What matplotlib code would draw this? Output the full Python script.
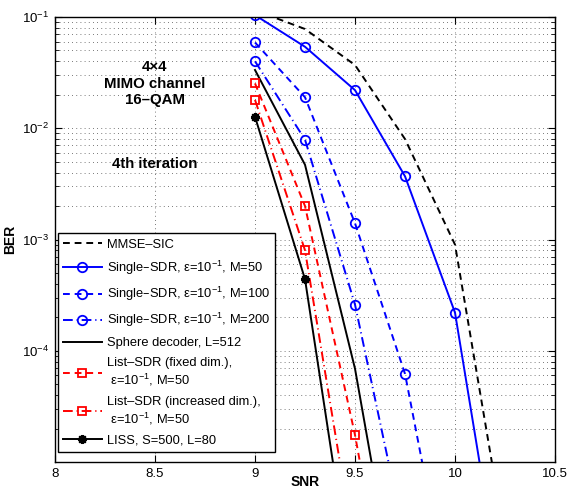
import matplotlib
matplotlib.use("Agg")
import matplotlib.pyplot as plt
from matplotlib.ticker import LogLocator, NullFormatter, FixedLocator

plt.rcParams['font.family'] = ['Liberation Sans', 'DejaVu Sans']
plt.rcParams['mathtext.default'] = 'regular'

# ---- data ----
snr = [9.0, 9.25, 9.5, 9.75, 10.0, 10.25]
ber_mmse_sic = [0.115, 0.078, 0.037, 8.0e-3, 9.0e-4, 2.0e-6]
ber_sdr_m50 = [0.104, 0.054, 0.022, 3.7e-3, 2.2e-4, 4.0e-7]
ber_sdr_m100 = [0.059, 0.019, 1.4e-3, 6.2e-5, 3.0e-7]
ber_sdr_m200 = [0.040, 7.9e-3, 2.6e-4, 2.0e-6]
ber_sphere = [0.0334, 4.7e-3, 6.9e-5, 2.0e-7]
ber_list_fixed = [0.0253, 2.0e-3, 1.75e-5, 6.0e-8]
ber_list_incr = [0.018, 8.0e-4, 1.5e-6]
ber_liss = [0.0127, 4.4e-4, 5.0e-7]

labels = [
    'MMSE–SIC',
    'Single–SDR, ε=10$^{-1}$, M=50',
    'Single–SDR, ε=10$^{-1}$, M=100',
    'Single–SDR, ε=10$^{-1}$, M=200',
    'Sphere decoder, L=512',
    'List–SDR (fixed dim.),\n ε=10$^{-1}$, M=50',
    'List–SDR (increased dim.),\n ε=10$^{-1}$, M=50',
    'LISS, S=500, L=80',
]
xticks = [8, 8.5, 9, 9.5, 10, 10.5]
xticklabels = ['8', '8.5', '9', '9.5', '10', '10.5']

fig = plt.figure(figsize=(5.67, 4.91), dpi=100)
ax = fig.add_axes([55/567, 29/491, 500/567, 445/491])

lw = 1.4
ms_c = 6.8
ms_s = 5.5
dash = (0, (3.5, 2.5))
dashdot = (0, (5, 2, 0.6, 2))
ax.plot(snr[:len(ber_mmse_sic)], ber_mmse_sic, color='black', ls=dash, lw=lw, label=labels[0])
ax.plot(snr[:len(ber_sdr_m50)], ber_sdr_m50, color='#0000ff', ls='-', lw=lw, marker='o',
        ms=ms_c, mfc='none', mew=1.3, label=labels[1])
ax.plot(snr[:len(ber_sdr_m100)], ber_sdr_m100, color='#0000ff', ls=dash, lw=lw, marker='o',
        ms=ms_c, mfc='none', mew=1.3, label=labels[2])
ax.plot(snr[:len(ber_sdr_m200)], ber_sdr_m200, color='#0000ff', ls=dashdot, lw=lw, marker='o',
        ms=ms_c, mfc='none', mew=1.3, label=labels[3])
ax.plot(snr[:len(ber_sphere)], ber_sphere, color='black', ls='-', lw=lw, label=labels[4])
ax.plot(snr[:len(ber_list_fixed)], ber_list_fixed, color='#ff0000', ls=dash, lw=lw, marker='s',
        ms=ms_s, mfc='none', mew=1.3, label=labels[5])
ax.plot(snr[:len(ber_list_incr)], ber_list_incr, color='#ff0000', ls=dashdot, lw=lw, marker='s',
        ms=ms_s, mfc='none', mew=1.3, label=labels[6])
ax.plot(snr[:len(ber_liss)], ber_liss, color='black', ls='-', lw=lw, marker=(8, 2, 0),
        ms=6.5, mew=1.5, label=labels[7])

ax.set_yscale('log')
ax.set_xlim(8, 10.5)
ax.set_ylim(1e-5, 1e-1)
ax.xaxis.set_major_locator(FixedLocator(xticks))
ax.set_xticklabels(xticklabels)
ax.yaxis.set_major_locator(FixedLocator([1e-4, 1e-3, 1e-2, 1e-1]))
ax.yaxis.set_minor_locator(LogLocator(base=10, subs=range(2, 10), numticks=20))
ax.yaxis.set_minor_formatter(NullFormatter())

ax.tick_params(which='both', direction='in', top=True, right=True, labelsize=9.5, colors='black')
ax.tick_params(which='major', length=5, width=0.8, pad=4)
ax.tick_params(which='minor', length=3, width=0.6)
for s in ax.spines.values():
    s.set_linewidth(1.0)

gkw = dict(color='0.3', linestyle=(0, (1, 4)), linewidth=0.6)
ax.grid(True, which='major', axis='both', **gkw)
ax.grid(True, which='minor', axis='y', **gkw)
ax.set_axisbelow(True)

ax.text(8.5, 10**-1.60, '4×4\nMIMO channel\n16–QAM', ha='center', va='center',
        fontsize=10.8, fontweight='bold', linespacing=1.22)
ax.text(8.5, 10**-2.32, '4th iteration', ha='center', va='center',
        fontsize=10.8, fontweight='bold')

ax.set_xlabel('SNR', fontsize=10, fontweight='bold')
ax.xaxis.set_label_coords(0.5, -0.030)
ax.set_ylabel('BER', fontsize=10, fontweight='bold')
ax.yaxis.set_label_coords(-0.076, 0.5)

leg = ax.legend(loc='lower left', bbox_to_anchor=(2.7/500, 10/445), fontsize=9.3,
                frameon=True, fancybox=False,
                edgecolor='black', framealpha=1, borderaxespad=0.0,
                handlelength=3.0, handletextpad=0.4, labelspacing=0.62,
                borderpad=0.4)
leg.get_frame().set_linewidth(1.0)

fig.savefig('out.png', dpi=100)
